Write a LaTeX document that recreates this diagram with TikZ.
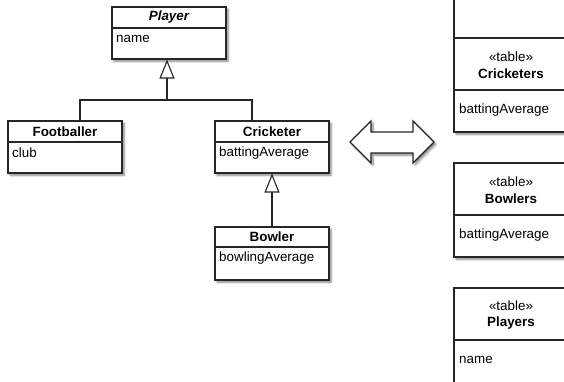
\documentclass[tikz,border=0pt]{standalone}
\usepackage{fontspec}
\setmainfont{Liberation Sans}
\usetikzlibrary{arrows.meta,shadows.blur}
\tikzset{
  x=1pt, y=1pt,
  lc/.style={draw=black!85, line width=1.1pt},
  shad/.style={blur shadow={shadow xshift=2pt, shadow yshift=-2.2pt, shadow blur steps=6, shadow opacity=50}},
  box/.style={lc, shad, fill=white, rectangle, inner sep=0pt},
  ttl/.style={font=\fontsize{13.4}{15}\selectfont\bfseries, inner sep=0pt, anchor=center},
  att/.style={font=\fontsize{13.4}{15}\selectfont, inner sep=0pt, anchor=west},
  ster/.style={font=\fontsize{13.4}{15}\selectfont, inner sep=0pt, anchor=center},
  gen/.style={lc, -{Triangle[open, width=15pt, length=19pt, line width=1.1pt]}},
}
\begin{document}
\begin{tikzpicture}
\useasboundingbox (0,0) rectangle (564,-381);
% ---------- class boxes ----------
\node[box, minimum width=114pt, minimum height=52pt] (player) at (169,-33) {};
\draw[lc] (112,-28) -- (226,-28);
\node[ttl, font=\fontsize{13.4}{15}\selectfont\bfseries\itshape] (playerT) at (169,-17.5) {Player};
\node[att] (playerA) at (116,-39) {name};

\node[box, minimum width=114pt, minimum height=52pt] (foot) at (65,-147) {};
\draw[lc] (8,-142) -- (122,-142);
\node[ttl] (footT) at (65,-132) {Footballer};
\node[att] (footA) at (12,-153) {club};

\node[box, minimum width=114pt, minimum height=52pt] (crick) at (272,-147) {};
\draw[lc] (215,-142) -- (329,-142);
\node[ttl] (crickT) at (272,-132) {Cricketer};
\node[att] (crickA) at (219,-153) {battingAverage};

\node[box, minimum width=114pt, minimum height=53pt] (bowl) at (272,-253.5) {};
\draw[lc] (215,-247) -- (329,-247);
\node[ttl] (bowlT) at (272,-237) {Bowler};
\node[att] (bowlA) at (219,-258) {bowlingAverage};

% ---------- generalisations ----------
\coordinate (j) at (167,-100);
\coordinate (jf) at (80,-100);
\coordinate (jc) at (252,-100);
\draw[lc] (jf |- foot.north) -- (jf) -- (jc) -- (jc |- crick.north);
\draw[gen] (j) -- (j |- player.south);
\draw[gen] (bowl.north) -- (crick.south);

% ---------- double arrow ----------
\draw[lc, fill=white, shad, line join=miter]
  (350,-142) -- (371,-121) -- (371,-132) -- (413,-132) -- (413,-121) -- (434,-142)
  -- (413,-163) -- (413,-153) -- (371,-153) -- (371,-163) -- cycle;

% ---------- tables (cut off at the right edge) ----------
\node[box, minimum width=150pt, minimum height=67pt] (tTop) at (529,-26.5) {};

\node[box, minimum width=150pt, minimum height=94pt] (tCrick) at (529,-85) {};
\draw[lc] (454,-90) -- (604,-90);
\node[ster] (tCrickS) at (511,-57) {«table»};
\node[ttl] (tCrickT) at (511,-74) {Cricketers};
\node[att] (tCrickA) at (459,-110) {battingAverage};

\node[box, minimum width=150pt, minimum height=94pt] (tBowl) at (529,-210) {};
\draw[lc] (454,-215) -- (604,-215);
\node[ster] (tBowlS) at (511,-182) {«table»};
\node[ttl] (tBowlT) at (511,-199) {Bowlers};
\node[att] (tBowlA) at (459,-235) {battingAverage};

\node[box, minimum width=150pt, minimum height=120pt] (tPlay) at (529,-348) {};
\draw[lc] (454,-340) -- (604,-340);
\node[ster] (tPlayS) at (511,-306) {«table»};
\node[ttl] (tPlayT) at (511,-323) {Players};
\node[att] (tPlayA) at (459,-360) {name};
\end{tikzpicture}
\end{document}
